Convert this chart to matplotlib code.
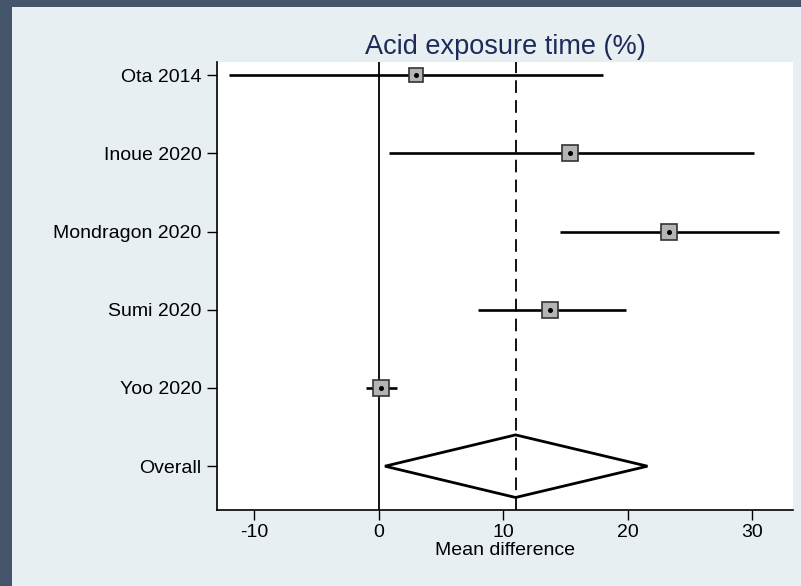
import matplotlib.pyplot as plt
from matplotlib.patches import Polygon, Rectangle

plt.rcParams['font.family'] = ['Liberation Sans', 'DejaVu Sans']

# study estimates (mean difference with 95% CI)
studies = ["Ota 2014", "Inoue 2020", "Mondragon 2020", "Sumi 2020", "Yoo 2020"]
mean_diff = [3.0, 15.4, 23.3, 13.8, 0.2]
ci_low = [-12.0, 0.8, 14.6, 8.0, -1.0]
ci_high = [18.0, 30.2, 32.2, 19.9, 1.5]
box_size = [10, 11, 12, 12, 12]

# pooled estimate
overall_label = "Overall"
overall_est = 11.0
overall_low = 0.5
overall_high = 21.6

xticks = [-10, 0, 10, 20, 30]

fig = plt.figure(figsize=(8.01, 5.86), dpi=100)
fig.patch.set_facecolor("#e8eff2")

# dark frame along the left and top edges
fig.patches.append(Rectangle((0, 0), 12 / 801, 1, transform=fig.transFigure,
                             facecolor="#44546a", edgecolor="none", zorder=0))
fig.patches.append(Rectangle((0, 1 - 7 / 586), 1, 7 / 586, transform=fig.transFigure,
                             facecolor="#44546a", edgecolor="none", zorder=0))

ax = fig.add_axes([217 / 801, 1 - 510 / 586, (793 - 217) / 801, (510 - 62) / 586])
ax.set_facecolor("white")

ypos = list(range(1, len(studies) + 1))
y_overall = len(studies) + 1

ax.axvline(0, color="black", lw=1.3, zorder=1)
ax.axvline(overall_est, color="black", lw=1.3, ls=(0, (7, 4)), zorder=1)

for y, m, lo, hi, s in zip(ypos, mean_diff, ci_low, ci_high, box_size):
    ax.plot([lo, hi], [y, y], color="black", lw=1.9, zorder=2, solid_capstyle="butt")
    ax.plot(m, y, marker="s", ms=s, mfc="#b4b4b4", mec="#333333", mew=1.2, zorder=3)
    ax.plot(m, y, marker="o", ms=2.6, color="black", zorder=4)

diamond = Polygon([[overall_low, y_overall], [overall_est, y_overall - 0.4],
                   [overall_high, y_overall], [overall_est, y_overall + 0.4]],
                  closed=True, facecolor="none", edgecolor="black", lw=2.0, zorder=3)
ax.add_patch(diamond)

ax.set_xlim(-13, 33.3)
ax.set_ylim(6.56, 0.833)
ax.set_yticks(ypos + [y_overall])
ax.set_yticklabels(studies + [overall_label], fontsize=14)
ax.set_xticks(xticks)
ax.set_xticklabels([str(t) for t in xticks], fontsize=14)
ax.tick_params(axis="both", direction="out", length=7, width=1, color="black")
ax.tick_params(axis="y", pad=4)
ax.tick_params(axis="x", pad=3)

for side in ["top", "right"]:
    ax.spines[side].set_visible(False)
for side in ["left", "bottom"]:
    ax.spines[side].set_linewidth(1.2)

ax.set_xlabel("Mean difference", fontsize=14, labelpad=1)
ax.set_title("Acid exposure time (%)", fontsize=19.5, color="#1c2b58", pad=6)

fig.savefig("out.png", dpi=100, facecolor=fig.get_facecolor())
